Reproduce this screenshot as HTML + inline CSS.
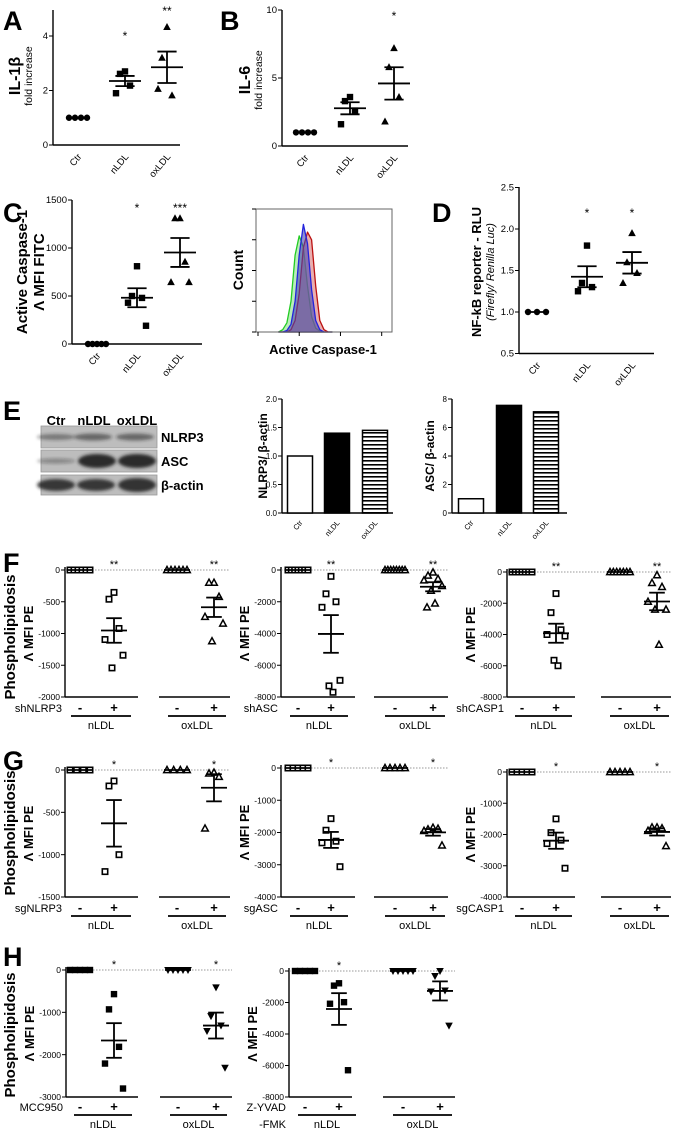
<!DOCTYPE html>
<html><head><meta charset="utf-8">
<style>
html,body{margin:0;padding:0;background:#fff;}
svg{display:block;font-family:"Liberation Sans",Arial,sans-serif;}
</style></head>
<body>
<svg id="fig" width="675" height="1133" viewBox="0 0 675 1133" xmlns="http://www.w3.org/2000/svg">
<defs>
<filter id="blur1" x="-20%" y="-50%" width="140%" height="200%"><feGaussianBlur stdDeviation="1.6"/></filter>
<pattern id="hstripe" width="6" height="4" patternUnits="userSpaceOnUse"><rect width="6" height="4" fill="#fff"/><rect y="0" width="6" height="1.6" fill="#000"/></pattern>
</defs>
</svg>
<script>
// ---------- DATA ----------
const catsABCD = ['Ctr','nLDL','oxLDL'];
const aCtr = [1,1,1,1];
const aNLDL = [2.70,2.61,2.18,1.90];
const aOxLDL = [4.33,3.20,1.82,2.06];
const bCtr = [1,1,1,1];
const bNLDL = [3.6,3.3,2.6,1.6];
const bOxLDL = [7.2,5.8,3.6,1.8];
const cCtr = [0,0,0,0,0];
const cNLDL = [810,500,480,430,190];
const cOxLDL = [1310,1310,857,645,645];
const dCtr = [1,1,1];
const dNLDL = [1.8,1.35,1.3,1.25];
const dOxLDL = [1.95,1.6,1.47,1.35];
const aTicks = [0,2,4];
const bTicks = [0,5,10];
const cTicks = [0,500,1000,1500];
const dTicks = [0.5,1.0,1.5,2.0,2.5];
// histogram (log10 fluorescence bins, counts)
const histBins = [0.5,0.6,0.7,0.8,0.9,1.0,1.1,1.2,1.3,1.4,1.5,1.6,1.7,1.8];
const histGreen = [0,3,12,40,100,125,110,60,20,5,1,0,0,0];
const histBlue = [0,0,2,10,40,100,140,115,55,15,3,0,0,0];
const histRed = [0,0,0,3,15,50,110,130,120,60,15,3,0,0];
// E bars
const eNlrp3 = [1.0,1.4,1.45];
const eAsc = [1.0,7.55,7.1];
const eNlrp3Ticks = [0,0.5,1.0,1.5,2.0];
const eAscTicks = [0,2,4,6,8];
// F
const fNlrp3NCtl = [0,0,0,0,0,0];
const fNlrp3NTrt = [-353,-460,-921,-1095,-1342,-1542];
const fNlrp3OCtl = [0,0,0,0,0,0];
const fNlrp3OTrt = [-200,-200,-421,-737,-842,-1121];
const fAscNCtl = [0,0,0,0,0,0,0];
const fAscNTrt = [-400,-1500,-2000,-2350,-6950,-7300,-7700];
const fAscOCtl = [0,0,0,0,0,0,0,0];
const fAscOTrt = [-150,-350,-550,-650,-1000,-1300,-2100,-2350];
const fCasNCtl = [0,0,0,0,0,0,0];
const fCasNTrt = [-1380,-2600,-3700,-4000,-4100,-5650,-6000];
const fCasOCtl = [0,0,0,0,0,0,0];
const fCasOTrt = [-200,-700,-950,-1900,-2400,-2400,-4650];
// G
const gNlrp3NCtl = [0,0,0,0];
const gNlrp3NTrt = [-130,-189,-1000,-1200];
const gNlrp3OCtl = [0,0,0,0];
const gNlrp3OTrt = [-30,-40,-80,-690];
const gAscNCtl = [0,0,0,0,0];
const gAscNTrt = [-1570,-1930,-2270,-2320,-3060];
const gAscOCtl = [0,0,0,0,0];
const gAscOTrt = [-1850,-1900,-1880,-1950,-2400];
const gCasNCtl = [0,0,0,0,0];
const gCasNTrt = [-1500,-1940,-2180,-2290,-3080];
const gCasOCtl = [0,0,0,0,0];
const gCasOTrt = [-1770,-1770,-1800,-1880,-2370];
// H
const hMccNCtl = [0,0,0,0,0];
const hMccNTrt = [-570,-930,-1815,-2210,-2800];
const hMccOCtl = [0,0,0,0,0];
const hMccOTrt = [-410,-1090,-1310,-1440,-2310];
const hZNCtl = [0,0,0,0,0];
const hZNTrt = [-780,-930,-1980,-2080,-6300];
const hZOCtl = [0,0,0,0,0];
const hZOTrt = [0,-320,-1240,-1300,-3470];
const tickF1 = [0,-500,-1000,-1500,-2000];
const tickF2 = [0,-2000,-4000,-6000,-8000];
const tickG1 = [0,-500,-1000,-1500];
const tickG2 = [0,-1000,-2000,-3000,-4000];
const tickH1 = [0,-1000,-2000,-3000];
const tickH2 = [0,-2000,-4000,-6000,-8000];

// ---------- HELPERS ----------
const NS = 'http://www.w3.org/2000/svg';
const svg = document.getElementById('fig');
function el(tag, attrs, parent, name, inter){
  const e = document.createElementNS(NS, tag);
  for (const k in attrs) e.setAttribute(k, attrs[k]);
  
  
  (parent || svg).appendChild(e);
  return e;
}
function txt(x, y, s, size, opts, parent, name){
  opts = opts || {};
  const a = {x:x, y:y, 'font-size':size, fill:'#000'};
  if (opts.bold) a['font-weight'] = 'bold';
  if (opts.anchor) a['text-anchor'] = opts.anchor;
  if (opts.rot !== undefined) a.transform = 'rotate(' + opts.rot + ' ' + x + ' ' + y + ')';
  if (opts.italic) a['font-style'] = 'italic';
  const t = el('text', a, parent, name);
  t.textContent = s;
  return t;
}
function line(x1,y1,x2,y2,w,parent,name,extra){
  const a = {x1:x1,y1:y1,x2:x2,y2:y2,stroke:(extra&&extra.color)||'#000','stroke-width':w};
  if (extra && extra.dash) a['stroke-dasharray'] = extra.dash;
  return el('line', a, parent, name);
}
function lin(v0,p0,v1,p1){ return v => p0 + (v - v0) * (p1 - p0) / (v1 - v0); }
function mean(a){ return a.reduce((s,v)=>s+v,0)/a.length; }
function sem(a){ const m=mean(a); if(a.length<2) return 0; const sd=Math.sqrt(a.reduce((s,v)=>s+(v-m)*(v-m),0)/(a.length-1)); return sd/Math.sqrt(a.length); }
function marker(g, x, y, shape, name){
  if (shape === 'circle') return el('circle',{cx:x,cy:y,r:3.2,fill:'#000'},g,name);
  if (shape === 'square') return el('rect',{x:x-3.2,y:y-3.2,width:6.4,height:6.4,fill:'#000'},g,name);
  if (shape === 'osquare') return el('rect',{x:x-2.7,y:y-2.7,width:5.4,height:5.4,fill:'#fff',stroke:'#000','stroke-width':1.6},g,name);
  if (shape === 'tri') return el('polygon',{points:(x)+','+(y-4)+' '+(x-3.8)+','+(y+3)+' '+(x+3.8)+','+(y+3),fill:'#000'},g,name);
  if (shape === 'otri') return el('polygon',{points:(x)+','+(y-3.5)+' '+(x-3.3)+','+(y+2.6)+' '+(x+3.3)+','+(y+2.6),fill:'#fff',stroke:'#000','stroke-width':1.5},g,name);
  if (shape === 'dtri') return el('polygon',{points:(x)+','+(y+4)+' '+(x-3.8)+','+(y-3)+' '+(x+3.8)+','+(y-3),fill:'#000'},g,name);
}
const jit = [0,-5,5,-9,9,-2,2,-6,6];
function dotGroup(g, cx, vals, ys, shape, name, spread, meanHalf){
  const grp = el('g',{},g,name);
  const allSame = vals.every(v=>v===vals[0]);
  vals.forEach((v,i)=>{
    let x;
    if (allSame) x = cx - spread/2 + (vals.length>1 ? i*spread/(vals.length-1) : spread/2);
    else x = cx + jit[i % jit.length];
    marker(grp, x, ys(v), shape, name + '-point');
  });
  const m = mean(vals), s = sem(vals);
  if (!allSame){
    const mh = meanHalf || 14, sh = mh*0.6;
    line(cx-mh, ys(m), cx+mh, ys(m), 1.8, grp, name + '-mean');
    line(cx-sh, ys(m+s), cx+sh, ys(m+s), 1.8, grp, name + '-sem-upper');
    line(cx-sh, ys(m-s), cx+sh, ys(m-s), 1.8, grp, name + '-sem-lower');
    line(cx, ys(m+s), cx, ys(m-s), 1.8, grp, name + '-sem-bar');
  } else {
    line(cx-spread/2-3, ys(m), cx+spread/2+3, ys(m), 1.8, grp, name + '-mean');
  }
}
function yAxis(g, ax, ys, ticks, axTop, axBot, fmt, size){
  line(ax, axTop, ax, axBot, 1.4, g, 'y-axis-line');
  ticks.forEach(t=>{
    line(ax-4, ys(t), ax, ys(t), 1, g, 'y-tick');
    txt(ax-5, ys(t)+3.2, fmt(t), size||9, {anchor:'end'}, g, 'y-tick-label');
  });
}

// ---------- PANEL LETTERS ----------
[['A',3,30],['B',220,30],['C',3,222],['D',432,222],['E',3,420],['F',3,572],['G',3,770],['H',3,966]].forEach(p=>{
  txt(p[1], p[2], p[0], 27, {bold:true}, svg, 'panel-label-' + p[0].toLowerCase());
});

// ---------- A-D ----------
function catPanel(name, L, groups, ticks, fmt, stars){
  const g = el('g',{},svg,name);
  const ys = lin(L.v0, L.p0, L.v1, L.p1);
  yAxis(g, L.ax, ys, ticks, L.axTop, L.axBot, fmt, 9.5);
  line(L.ax, L.axBot, L.x1, L.axBot, 1.4, g, 'x-axis-line');
  groups.forEach((gr,i)=>{
    dotGroup(g, L.cats[i], gr.vals, ys, gr.shape, name + '-' + catsABCD[i].toLowerCase(), 18, 16);
    txt(L.cats[i]+4, L.axBot+12, catsABCD[i], 9.5, {anchor:'end', rot:-50}, g, 'x-category-label');
  });
  stars.forEach(s=>{ if(s.t) txt(L.cats[s.i], s.y, s.t, 12, {anchor:'middle'}, g, 'significance-star'); });
  return g;
}
catPanel('panel-a-il1b', {ax:53,x1:180,axTop:10,axBot:145,v0:0,p0:145,v1:4,p1:36,cats:[78,125,167]},
  [{vals:aCtr,shape:'circle'},{vals:aNLDL,shape:'square'},{vals:aOxLDL,shape:'tri'}], aTicks, t=>String(t),
  [{i:1,y:40,t:'*'},{i:2,y:15,t:'**'}]);
txt(20, 76, 'IL-1β', 16, {bold:true, anchor:'middle', rot:-90}, svg, 'y-axis-title-il1b');
txt(32, 76, 'fold increase', 10.5, {anchor:'middle', rot:-90}, svg, 'y-axis-subtitle');

catPanel('panel-b-il6', {ax:282,x1:408,axTop:10,axBot:146,v0:0,p0:146,v1:10,p1:10,cats:[305,350,394]},
  [{vals:bCtr,shape:'circle'},{vals:bNLDL,shape:'square'},{vals:bOxLDL,shape:'tri'}], bTicks, t=>String(t),
  [{i:2,y:20,t:'*'}]);
txt(250, 80, 'IL-6', 16, {bold:true, anchor:'middle', rot:-90}, svg, 'y-axis-title-il6');
txt(262, 80, 'fold increase', 10.5, {anchor:'middle', rot:-90}, svg, 'y-axis-subtitle');

catPanel('panel-c-caspase', {ax:72,x1:202,axTop:200,axBot:344,v0:0,p0:344,v1:1500,p1:200,cats:[97,137,180]},
  [{vals:cCtr,shape:'circle'},{vals:cNLDL,shape:'square'},{vals:cOxLDL,shape:'tri'}], cTicks, t=>String(t),
  [{i:1,y:212,t:'*'},{i:2,y:212,t:'***'}]);
txt(27, 272, 'Active Caspase-1', 15, {bold:true, anchor:'middle', rot:-90}, svg, 'y-axis-title-caspase');
txt(44, 272, 'Λ MFI FITC', 15, {bold:true, anchor:'middle', rot:-90}, svg, 'y-axis-subtitle-mfi');

catPanel('panel-d-nfkb', {ax:519,x1:654,axTop:187,axBot:353.5,v0:0.5,p0:353.5,v1:2.5,p1:187.5,cats:[537,587,632]},
  [{vals:dCtr,shape:'circle'},{vals:dNLDL,shape:'square'},{vals:dOxLDL,shape:'tri'}], dTicks, t=>t.toFixed(1),
  [{i:1,y:217,t:'*'},{i:2,y:217,t:'*'}]);
txt(481, 272, 'NF-kB reporter - RLU', 13, {bold:true, anchor:'middle', rot:-90}, svg, 'y-axis-title-nfkb');
txt(494, 272, '(Firefly/ Renilla Luc)', 11, {anchor:'middle', rot:-90, italic:true}, svg, 'y-axis-subtitle-rlu');

// ---------- HISTOGRAM ----------
(function(){
  const g = el('g',{},svg,'flow-histogram');
  const hx = lin(0, 258, 3.25, 392);
  const hy = lin(0, 332, 160, 209);
  function area(counts, fill, stroke, name){
    let d = 'M' + hx(histBins[0]) + ',' + hy(0);
    histBins.forEach((b,i)=>{ d += ' L' + hx(b).toFixed(1) + ',' + hy(counts[i]).toFixed(1); });
    d += ' L' + hx(histBins[histBins.length-1]) + ',' + hy(0) + ' Z';
    el('path',{d:d,fill:fill,stroke:stroke,'stroke-width':1.3,'stroke-linejoin':'round'},g,name);
  }
  area(histGreen,'rgba(130,220,130,0.55)','#22cc22','histogram-green');
  area(histRed,'rgba(215,110,110,0.55)','#bb1111','histogram-red');
  area(histBlue,'rgba(70,70,180,0.6)','#2222dd','histogram-blue');
  el('rect',{x:256,y:209,width:136,height:123,fill:'none',stroke:'#666','stroke-width':1},g,'histogram-frame');
  [0,1,2,3].forEach(d=>line(hx(d),332,hx(d),336,1,g,'histogram-x-tick'));
  [0,40,80,120,160].forEach(c=>line(252,hy(c),256,hy(c),1,g,'histogram-y-tick'));
  txt(243, 270, 'Count', 14, {bold:true, anchor:'middle', rot:-90}, g, 'histogram-y-title');
  txt(323, 354, 'Active Caspase-1', 13, {bold:true, anchor:'middle'}, g, 'histogram-x-title');
})();

// ---------- E: blot ----------
(function(){
  const g = el('g',{},svg,'western-blot');
  txt(56, 425, 'Ctr', 13, {bold:true, anchor:'middle'}, g, 'blot-lane-ctr');
  txt(94, 425, 'nLDL', 13, {bold:true, anchor:'middle'}, g, 'blot-lane-nldl');
  txt(137, 425, 'oxLDL', 13, {bold:true, anchor:'middle'}, g, 'blot-lane-oxldl');
  const rows = [{y:426,h:22,lab:'NLRP3',bands:[[56,3,0.45],[93,3.5,0.55],[135,3.5,0.55]]},
                {y:450,h:22,lab:'ASC',bands:[[56,2.5,0.35],[97,7,0.95],[137,7,0.95]]},
                {y:475,h:20,lab:'β-actin',bands:[[56,6,0.85],[96,6,0.85],[137,7,0.9]]}];
  rows.forEach(r=>{
    el('rect',{x:41,y:r.y,width:116,height:r.h,fill:'#bdbdbd',stroke:'#999','stroke-width':0.8},g,'blot-strip-' + r.lab);
    r.bands.forEach(b=>el('ellipse',{cx:b[0],cy:r.y+r.h/2,rx:19,ry:b[1],fill:'#222','fill-opacity':b[2],filter:'url(#blur1)'},g,'blot-band'));
    txt(161, r.y+r.h/2+5, r.lab, 13, {bold:true}, g, 'blot-row-label');
  });
})();

// ---------- E: bar charts ----------
function barChart(name, ax, x1, v1, vals, ticks, fmt, title, titleX, centers){
  const g = el('g',{},svg,name);
  const ys = lin(0, 513, v1, 399);
  yAxis(g, ax, ys, ticks, 399, 513, fmt, 8);
  line(ax, 513, x1, 513, 1.4, g, 'x-axis-line');
  const fills = ['#fff','#000','url(#hstripe)'];
  vals.forEach((v,i)=>{
    el('rect',{x:centers[i]-12.5,y:ys(v),width:25,height:513-ys(v),fill:fills[i],stroke:'#000','stroke-width':1.5},g,'bar-' + catsABCD[i].toLowerCase());
    txt(centers[i]+3, 523, catsABCD[i], 7.5, {anchor:'end', rot:-50}, g, 'x-category-label');
  });
  txt(titleX, 456, title, 12, {bold:true, anchor:'middle', rot:-90}, g, 'y-axis-title');
}
barChart('panel-e-nlrp3-bars', 282, 393, 2.0, eNlrp3, eNlrp3Ticks, t=>t.toFixed(1), 'NLRP3/ β-actin', 267, [300,337,375]);
barChart('panel-e-asc-bars', 452, 567, 8, eAsc, eAscTicks, t=>String(t), 'ASC/ β-actin', 434, [471,509,546]);

// ---------- F/G/H ----------
function subPanel(name, L, groups, ticks, treatLabel, star, shapes){
  const g = el('g',{},svg,name);
  const ys = lin(0, L.p0, L.vmin, L.pBot);
  yAxis(g, L.ax, ys, ticks, L.p0-3, L.pBot, t=>String(t), 8.5);
  line(L.ax, L.p0, L.segs[1][1], L.p0, 0.8, g, 'zero-reference-line', {color:'#777', dash:'1.5,1.5'});
  L.segs.forEach(s=>line(s[0], L.pBot, s[1], L.pBot, 1.4, g, 'x-axis-segment'));
  groups.forEach((vals,i)=>{
    const isCtl = (i % 2 === 0);
    dotGroup(g, L.xs[i], vals, ys, shapes[Math.floor(i/2)], name + (i<2?'-nldl':'-oxldl') + (isCtl?'-ctrl':'-treated'), 20, 13);
    txt(L.xs[i], L.row+4, isCtl ? '-' : '+', 13, {bold:true, anchor:'middle'}, g, 'treatment-sign');
    if (!isCtl && star[i>>1]) txt(L.xs[i], L.p0-2, star[i>>1], 11, {anchor:'middle'}, g, 'significance-star');
  });
  L.under.forEach((u,i)=>{
    line(u[0], L.row+8, u[1], L.row+8, 1.8, g, 'group-underline');
    txt((u[0]+u[1])/2, L.row+21, i===0?'nLDL':'oxLDL', 11, {anchor:'middle'}, g, 'group-label');
  });
  treatLabel.forEach((s,k)=>txt(L.ax-3, L.row+4+k*17, s, 11, {anchor:'end'}, g, 'treatment-label'));
  txt(L.ax-32, (L.p0+L.pBot)/2, 'Λ MFI PE', 13, {bold:true, anchor:'middle', rot:-90}, g, 'y-axis-title-mfi-pe');
  return g;
}
const X1 = {ax:65, xs:[80,114,177,214], segs:[[65,138],[159,230]], under:[[71,131],[168,226]]};
const X2 = {ax:281, xs:[298,331,395,433], segs:[[281,355],[374,448]], under:[[290,348],[385,445]]};
const X3 = {ax:507, xs:[522,556,620,657], segs:[[507,575],[601,671]], under:[[515,572],[610,669]]};
function L(x, o){ return Object.assign({}, x, o); }
const openSh = ['osquare','otri'];
subPanel('panel-f-shnlrp3', L(X1,{p0:570,vmin:-2000,pBot:697,row:708}), [fNlrp3NCtl,fNlrp3NTrt,fNlrp3OCtl,fNlrp3OTrt], tickF1, ['shNLRP3'], ['**','**'], openSh);
subPanel('panel-f-shasc', L(X2,{p0:570,vmin:-8000,pBot:697,row:708}), [fAscNCtl,fAscNTrt,fAscOCtl,fAscOTrt], tickF2, ['shASC'], ['**','**'], openSh);
subPanel('panel-f-shcasp1', L(X3,{p0:572,vmin:-8000,pBot:697,row:708}), [fCasNCtl,fCasNTrt,fCasOCtl,fCasOTrt], tickF2, ['shCASP1'], ['**','**'], openSh);
subPanel('panel-g-sgnlrp3', L(X1,{p0:770,vmin:-1500,pBot:897,row:908}), [gNlrp3NCtl,gNlrp3NTrt,gNlrp3OCtl,gNlrp3OTrt], tickG1, ['sgNLRP3'], ['*','*'], openSh);
subPanel('panel-g-sgasc', L(X2,{p0:768,vmin:-4000,pBot:897,row:908}), [gAscNCtl,gAscNTrt,gAscOCtl,gAscOTrt], tickG2, ['sgASC'], ['*','*'], openSh);
subPanel('panel-g-sgcasp1', L(X3,{p0:772,vmin:-4000,pBot:897,row:908}), [gCasNCtl,gCasNTrt,gCasOCtl,gCasOTrt], tickG2, ['sgCASP1'], ['*','*'], openSh);
subPanel('panel-h-mcc950', {ax:66, xs:[80,114,178,216], segs:[[66,138],[160,232]], under:[[74,132],[170,227]], p0:970, vmin:-3000, pBot:1097, row:1107}, [hMccNCtl,hMccNTrt,hMccOCtl,hMccOTrt], tickH1, ['MCC950'], ['*','*'], ['square','dtri']);
subPanel('panel-h-zyvad', {ax:289, xs:[305,339,403,440], segs:[[289,352],[383,455]], under:[[298,356],[393,452]], p0:971, vmin:-8000, pBot:1097, row:1107}, [hZNCtl,hZNTrt,hZOCtl,hZOTrt], tickH2, ['Z-YVAD','-FMK'], ['*',''], ['square','dtri']);
[[637,'f'],[833,'g'],[1035,'h']].forEach(p=>{
  txt(15, p[0], 'Phospholipidosis', 15, {bold:true, anchor:'middle', rot:-90}, svg, 'y-axis-title-phospholipidosis-' + p[1]);
});
</script>
</body></html>
